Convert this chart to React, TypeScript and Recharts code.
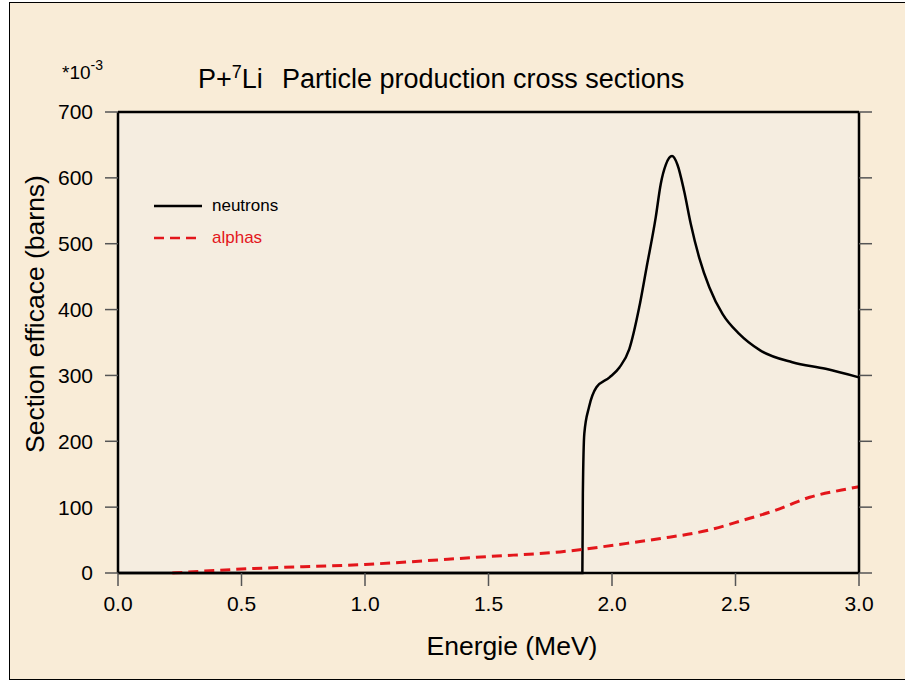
import { CartesianGrid, Legend, Line, LineChart, XAxis, YAxis } from "recharts";

const energyNeutrons = [0, 1.88, 1.882, 1.888, 1.907, 1.937, 1.99, 2.03, 2.07, 2.11, 2.14, 2.177, 2.197, 2.218, 2.243, 2.265, 2.292, 2.319, 2.353, 2.394, 2.448, 2.515, 2.6, 2.73, 2.865, 3.0];
const neutrons = [0, 0, 120, 212, 252, 282, 297, 312, 340, 403, 464, 540, 590, 620, 633, 620, 580, 530, 479, 434, 393, 363, 338, 320, 310, 297];

const energyAlphas = [0.22, 0.5, 1.0, 1.5, 1.79, 2.06, 2.19, 2.39, 2.53, 2.66, 2.8, 2.93, 3.0];
const alphas = [0, 6, 13, 25, 32, 45, 52, 65, 80, 95, 115, 126, 131];

const xTicks = [0, 0.5, 1, 1.5, 2, 2.5, 3];
const yTicks = [0, 100, 200, 300, 400, 500, 600, 700];

const neutronData = energyNeutrons.map((e, i) => ({ e, v: neutrons[i] }));
const alphaData = energyAlphas.map((e, i) => ({ e, v: alphas[i] }));

const FONT = "'Liberation Sans', Arial, Helvetica, sans-serif";
const RED = "#e3161b";
const TICK = { stroke: "#555", strokeWidth: 1.5 };
const AXIS = { stroke: "#000", strokeWidth: 2.5 };

function LegendBox() {
  const rows = [
    { name: "neutrons", color: "#000", dash: undefined },
    { name: "alphas", color: RED, dash: "10 6" },
  ];
  return (
    <div style={{ fontFamily: FONT, fontSize: 17 }}>
      {rows.map((r) => (
        <div key={r.name} style={{ display: "flex", alignItems: "center", height: 32 }}>
          <svg width={58} height={10}>
            <line x1={0} y1={5} x2={48} y2={5} stroke={r.color} strokeWidth={2.5} strokeDasharray={r.dash} />
          </svg>
          <span style={{ color: r.color }}>{r.name}</span>
        </div>
      ))}
    </div>
  );
}

export default function App() {
  return (
    <div style={{ position: "absolute", left: 0, top: 0, width: 905, height: 683, background: "#fff", overflow: "hidden" }}>
      <div
        style={{
          position: "absolute",
          left: 9,
          top: 2,
          width: 910,
          height: 676,
          border: "1.5px solid #000",
          background: "#f9ecd7",
        }}
      />
      <div style={{ position: "absolute", left: 0, top: 0 }}>
        <LineChart width={905} height={683} margin={{ top: 111, right: 45, bottom: 70, left: 58 }}>
          <CartesianGrid horizontal={false} vertical={false} fill="#f5ede0" />
          <XAxis
            dataKey="e"
            type="number"
            domain={[0, 3]}
            ticks={xTicks}
            tickFormatter={(v) => v.toFixed(1)}
            height={40}
            tickSize={13}
            tickMargin={10}
            axisLine={AXIS}
            tickLine={TICK}
            tick={{ fill: "#000", fontSize: 21, fontFamily: FONT }}
            allowDuplicatedCategory={false}
          />
          <XAxis
            xAxisId="top"
            orientation="top"
            type="number"
            domain={[0, 3]}
            allowDataOverflow
            ticks={xTicks}
            height={1}
            tickSize={13}
            tick={() => <g />}
            axisLine={AXIS}
            tickLine={TICK}
          />
          <YAxis
            type="number"
            domain={[0, 700]}
            ticks={yTicks}
            width={60}
            tickSize={13}
            tickMargin={12}
            axisLine={AXIS}
            tickLine={TICK}
            tick={{ fill: "#000", fontSize: 21, fontFamily: FONT }}
          />
          <YAxis
            yAxisId="right"
            orientation="right"
            type="number"
            domain={[0, 700]}
            allowDataOverflow
            ticks={yTicks}
            width={1}
            tickSize={13}
            tick={() => <g />}
            axisLine={AXIS}
            tickLine={TICK}
          />
          <Legend
            layout="vertical"
            align="center"
            verticalAlign="middle"
            content={() => <LegendBox />}
            wrapperStyle={{ left: 154, top: 190, width: 160 }}
          />
          <Line
            data={neutronData}
            dataKey="v"
            type="monotone"
            stroke="#000"
            strokeWidth={2.5}
            dot={false}
            activeDot={false}
            isAnimationActive={false}
          />
          <Line
            data={alphaData}
            dataKey="v"
            type="monotone"
            stroke={RED}
            strokeWidth={3}
            strokeDasharray="10 6"
            dot={false}
            activeDot={false}
            isAnimationActive={false}
          />
        </LineChart>
      </div>
      <svg width={905} height={683} style={{ position: "absolute", left: 0, top: 0, pointerEvents: "none" }}>
        <text x={62} y={79} fontFamily={FONT} fontSize={19} fill="#000">
          *10
          <tspan dy={-9} fontSize={14}>-3</tspan>
        </text>
        <text x={198} y={88} fontFamily={FONT} fontSize={27} fill="#000">
          P+
          <tspan dy={-10} fontSize={18}>7</tspan>
          <tspan dy={10}>Li</tspan>
          <tspan x={282}>Particle production cross sections</tspan>
        </text>
        <text x={512} y={655} textAnchor="middle" fontFamily={FONT} fontSize={26.5} fill="#000">
          Energie (MeV)
        </text>
        <text
          x={44}
          y={314}
          transform="rotate(-90 44 314)"
          textAnchor="middle"
          fontFamily={FONT}
          fontSize={26.5}
          fill="#000"
        >
          Section efficace (barns)
        </text>
      </svg>
    </div>
  );
}
